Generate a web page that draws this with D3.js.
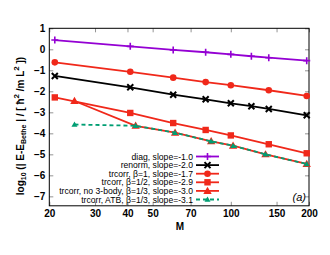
<!DOCTYPE html>
<html><head><meta charset="utf-8">
<script src="https://cdn.jsdelivr.net/npm/d3@7"></script>
<style>body{margin:0;background:#fff}svg{display:block}text{font-family:"Liberation Sans",Arial,sans-serif}</style>
</head><body><svg id="c" width="330" height="255"></svg>
<script>
const xTicks=[20,30,40,50,70,100,150,200];
const yTicks=[1,0,-1,-2,-3,-4,-5,-6,-7];
const mA=[21,41,60,80,100,120,140,196];
const mB=[21,41,60,80,100,140,196];
const mC=[25,43,61,84,102,136,196];
const diag=[0.44,0.14,-0.03,-0.14,-0.24,-0.33,-0.40,-0.54];
const renorm=[-1.27,-1.81,-2.16,-2.38,-2.57,-2.71,-2.84,-3.14];
const trB1=[-0.62,-1.07,-1.35,-1.56,-1.71,-1.95,-2.22];
const trB2=[-2.29,-3.03,-3.51,-3.84,-4.10,-4.52,-4.95];
const trB3=[-2.46,-3.64,-3.97,-4.38,-4.59,-5.00,-5.46];
const atb=[-3.58,-3.64,-3.97,-4.38,-4.59,-5.00,-5.46];
const labels=["diag, slope=-1.0","renorm, slope=-2.0","trcorr, \u03b2=1, slope=-1.7","trcorr, \u03b2=1/2, slope=-2.9","trcorr, no 3-body, \u03b2=1/3, slope=-3.0","trcorr, ATB, \u03b2=1/3, slope=-3.1"];

const RED="#f0281a",PUR="#9400d3",GRN="#009e73";
const series=[
 {m:mA,v:diag,c:PUR,mk:"plus"},
 {m:mA,v:renorm,c:"#000",mk:"cross"},
 {m:mB,v:trB1,c:RED,mk:"circle"},
 {m:mB,v:trB2,c:RED,mk:"square"},
 {m:mC,v:trB3,c:RED,mk:"tri"},
 {m:mC,v:atb,c:GRN,mk:"tri2",dash:"4,3"}
];
const L=49.3,R=309,T=28.3,B=205.8;
const svg=d3.select("#c");
const x=d3.scaleLog().domain([20,200]).range([L,R]);
const y=d3.scaleLinear().domain([-7.45,1]).range([B,T]);

const ax=svg.append("g").attr("transform",`translate(0,${B})`).call(d3.axisBottom(x).tickValues(xTicks).tickFormat(d3.format("d")).tickSizeInner(-4).tickSizeOuter(0).tickPadding(4));
const axT=svg.append("g").attr("transform",`translate(0,${T})`).call(d3.axisTop(x).tickValues(xTicks).tickFormat("").tickSizeInner(-4).tickSizeOuter(0));
const ay=svg.append("g").attr("transform",`translate(${L},0)`).call(d3.axisLeft(y).tickValues(yTicks).tickFormat(d3.format("d")).tickSizeInner(-4).tickSizeOuter(0).tickPadding(4));
const ayR=svg.append("g").attr("transform",`translate(${R},0)`).call(d3.axisRight(y).tickValues(yTicks).tickFormat("").tickSizeInner(-4).tickSizeOuter(0));
[ax,axT,ay,ayR].forEach(g=>{g.select(".domain").remove();g.selectAll("line").attr("stroke","#777").attr("stroke-width",0.8);g.selectAll("text").attr("font-size","10px").attr("font-weight","bold").attr("fill","#000").attr("font-family","Liberation Sans, Arial, sans-serif");});

svg.append("rect").attr("x",L).attr("y",T).attr("width",R-L).attr("height",B-T).attr("fill","none").attr("stroke","#000").attr("stroke-width",1);

function marker(g,mk,c,cx,cy){
 if(mk==="plus"){g.append("path").attr("d",`M${cx-3.5},${cy}h7M${cx},${cy-3.5}v7`).attr("stroke",c).attr("stroke-width",1.6);}
 else if(mk==="cross"){g.append("path").attr("d",`M${cx-3},${cy-3}l6,6M${cx-3},${cy+3}l6,-6`).attr("stroke",c).attr("stroke-width",2);}
 else if(mk==="circle"){g.append("circle").attr("cx",cx).attr("cy",cy).attr("r",3.3).attr("fill",c);}
 else if(mk==="square"){g.append("rect").attr("x",cx-3.2).attr("y",cy-3.2).attr("width",6.4).attr("height",6.4).attr("fill",c);}
 else if(mk==="tri"){g.append("path").attr("d",`M${cx},${cy-4.2}L${cx+4.2},${cy+3}L${cx-4.2},${cy+3}Z`).attr("fill",c);}
 else if(mk==="tri2"){g.append("path").attr("d",`M${cx},${cy-3}L${cx+3},${cy+2.2}L${cx-3},${cy+2.2}Z`).attr("fill",c);}
}
const line=d3.line();
const plot=svg.append("g");
series.forEach(s=>{
 const pts=s.m.map((m,i)=>[x(m),y(s.v[i])]);
 plot.append("path").attr("d",line(pts)).attr("fill","none").attr("stroke",s.c).attr("stroke-width",1.8).attr("stroke-dasharray",s.dash||null);
 const g=plot.append("g");
 pts.forEach(p=>marker(g,s.mk,s.c,p[0],p[1]));
});

const lg=svg.append("g");
labels.forEach((t,i)=>{
 const ly=156.5+i*8.6, s=series[i];
 lg.append("text").attr("x",193).attr("y",ly+3).attr("text-anchor","end").attr("font-size","8.6px").text(t);
 lg.append("line").attr("x1",196).attr("x2",219).attr("y1",ly).attr("y2",ly).attr("stroke",s.c).attr("stroke-width",1.8).attr("stroke-dasharray",s.dash||null);
 marker(lg,s.mk,s.c,207.5,ly);
});

svg.append("text").attr("x",306).attr("y",201).attr("text-anchor","end").attr("font-size","11px").attr("font-style","italic").text("(a)");
svg.append("text").attr("x",180).attr("y",229.5).attr("text-anchor","middle").attr("font-size","10px").attr("font-weight","bold").text("M");

const yl=svg.append("text").attr("transform","translate(24,126) rotate(-90)").attr("text-anchor","middle").attr("font-size","10px").attr("font-weight","bold");
yl.append("tspan").text("log");
yl.append("tspan").attr("font-size","7px").attr("dy",2).text("10");
yl.append("tspan").attr("dy",-2).text(" (| E-E");
yl.append("tspan").attr("font-size","7px").attr("dy",2).text("Bethe");
yl.append("tspan").attr("dy",-2).text(" | / [ \u0127");
yl.append("tspan").attr("font-size","8px").attr("dy",-5).text("2");
yl.append("tspan").attr("dy",5).text(" /m L");
yl.append("tspan").attr("font-size","8px").attr("dy",-5).text("2");
yl.append("tspan").attr("dy",5).text(" ])");
</script></body></html>
